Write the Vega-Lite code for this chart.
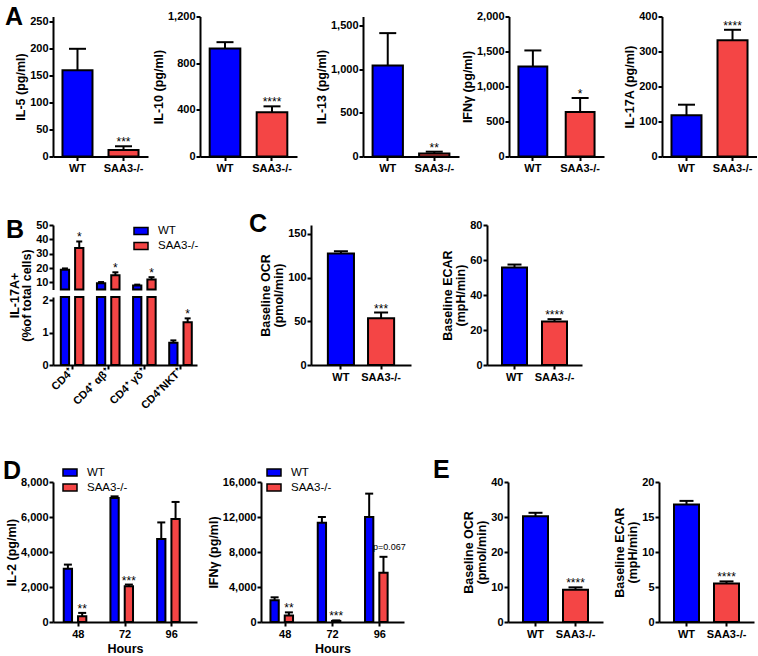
{
  "$schema": "https://vega.github.io/schema/vega-lite/v6.json",
  "padding": {"left": 3, "top": 4.5, "right": 0, "bottom": 0},
  "background": "white",
  "datasets": {
    "simple": [
      {"panel": "IL-5", "group": "WT", "value": 160, "upper": 200, "sig": ""},
      {"panel": "IL-5", "group": "SAA3-/-", "value": 12, "upper": 19, "sig": "***"},
      {"panel": "IL-10", "group": "WT", "value": 925, "upper": 980, "sig": ""},
      {"panel": "IL-10", "group": "SAA3-/-", "value": 380, "upper": 430, "sig": "****"},
      {"panel": "IL-13", "group": "WT", "value": 1040, "upper": 1410, "sig": ""},
      {"panel": "IL-13", "group": "SAA3-/-", "value": 35, "upper": 55, "sig": "**"},
      {"panel": "IFNg", "group": "WT", "value": 1285, "upper": 1515, "sig": ""},
      {"panel": "IFNg", "group": "SAA3-/-", "value": 635, "upper": 835, "sig": "*"},
      {"panel": "IL-17A", "group": "WT", "value": 118, "upper": 148, "sig": ""},
      {"panel": "IL-17A", "group": "SAA3-/-", "value": 332, "upper": 362, "sig": "****"},
      {"panel": "OCR-C", "group": "WT", "value": 127.5, "upper": 130, "sig": ""},
      {"panel": "OCR-C", "group": "SAA3-/-", "value": 53.5, "upper": 60, "sig": "***"},
      {"panel": "ECAR-C", "group": "WT", "value": 55.7, "upper": 57.4, "sig": ""},
      {"panel": "ECAR-C", "group": "SAA3-/-", "value": 24.8, "upper": 26.2, "sig": "****"},
      {"panel": "OCR-E", "group": "WT", "value": 30.2, "upper": 31.2, "sig": ""},
      {"panel": "OCR-E", "group": "SAA3-/-", "value": 9.2, "upper": 9.9, "sig": "****"},
      {"panel": "ECAR-E", "group": "WT", "value": 16.8, "upper": 17.3, "sig": ""},
      {"panel": "ECAR-E", "group": "SAA3-/-", "value": 5.5, "upper": 5.8, "sig": "****"}
    ],
    "B": [
      {"cell": "CD4⁺", "group": "WT", "value": 18.7, "upper": 19.7, "sig": ""},
      {"cell": "CD4⁺", "group": "SAA3-/-", "value": 34, "upper": 38.5, "sig": "*"},
      {"cell": "CD4⁺ αβ⁺", "group": "WT", "value": 9.4, "upper": 10.2, "sig": ""},
      {"cell": "CD4⁺ αβ⁺", "group": "SAA3-/-", "value": 15, "upper": 17, "sig": "*"},
      {"cell": "CD4⁺ γδ⁺", "group": "WT", "value": 7.8, "upper": 8.4, "sig": ""},
      {"cell": "CD4⁺ γδ⁺", "group": "SAA3-/-", "value": 12, "upper": 13.6, "sig": "*"},
      {"cell": "CD4⁺NKT⁺", "group": "WT", "value": 0.69, "upper": 0.76, "sig": ""},
      {"cell": "CD4⁺NKT⁺", "group": "SAA3-/-", "value": 1.32, "upper": 1.44, "sig": "*"}
    ],
    "D": [
      {"panel": "IL-2", "hour": "48", "group": "WT", "value": 3050, "upper": 3280, "sig": "", "note": ""},
      {"panel": "IL-2", "hour": "48", "group": "SAA3-/-", "value": 330, "upper": 520, "sig": "**", "note": ""},
      {"panel": "IL-2", "hour": "72", "group": "WT", "value": 7090, "upper": 7180, "sig": "", "note": ""},
      {"panel": "IL-2", "hour": "72", "group": "SAA3-/-", "value": 2040, "upper": 2140, "sig": "***", "note": ""},
      {"panel": "IL-2", "hour": "96", "group": "WT", "value": 4740, "upper": 5690, "sig": "", "note": ""},
      {"panel": "IL-2", "hour": "96", "group": "SAA3-/-", "value": 5890, "upper": 6860, "sig": "", "note": ""},
      {"panel": "IFNg", "hour": "48", "group": "WT", "value": 2475, "upper": 2820, "sig": "", "note": ""},
      {"panel": "IFNg", "hour": "48", "group": "SAA3-/-", "value": 756, "upper": 1100, "sig": "**", "note": ""},
      {"panel": "IFNg", "hour": "72", "group": "WT", "value": 11345, "upper": 11990, "sig": "", "note": ""},
      {"panel": "IFNg", "hour": "72", "group": "SAA3-/-", "value": 120, "upper": 180, "sig": "***", "note": ""},
      {"panel": "IFNg", "hour": "96", "group": "WT", "value": 11990, "upper": 14670, "sig": "", "note": ""},
      {"panel": "IFNg", "hour": "96", "group": "SAA3-/-", "value": 5615, "upper": 7450, "sig": "", "note": "p=0.067"}
    ]
  },
  "resolve": {"scale": {"color": "independent"}, "legend": {"color": "independent"}},
  "spacing": 38.5,
  "vconcat": [
    {
      "hconcat": [
        {
          "width": 95, "height": 140,
          "data": {"name": "simple"},
          "transform": [{"filter": "datum.panel === 'IL-5'"}],
          "title": {"text": "A", "dx": -48, "dy": 18},
          "encoding": {"x": {"field": "group", "type": "nominal", "sort": ["WT", "SAA3-/-"], "title": null, "scale": {"paddingInner": 0.348, "paddingOuter": 0.206}}},
          "layer": [
            {"mark": {"type": "bar", "stroke": "#000", "strokeWidth": 2}, "encoding": {"y": {"field": "value", "type": "quantitative", "title": "IL-5 (pg/ml)", "scale": {"domain": [0, 250]}, "axis": {"values": [0, 50, 100, 150, 200, 250]}}, "color": {"field": "group", "type": "nominal", "scale": {"domain": ["WT", "SAA3-/-"], "range": ["#0000ff", "#f44545"]}, "legend": null}}},
            {"mark": {"type": "rule", "color": "#000", "strokeWidth": 2}, "encoding": {"y": {"field": "value", "type": "quantitative", "title": "IL-5 (pg/ml)", "axis": {"values": [0, 50, 100, 150, 200, 250]}}, "y2": {"field": "upper"}}},
            {"mark": {"type": "tick", "color": "#000", "thickness": 2, "size": 17, "opacity": 1}, "encoding": {"y": {"field": "upper", "type": "quantitative", "title": "IL-5 (pg/ml)", "axis": {"values": [0, 50, 100, 150, 200, 250]}}}},
            {"mark": {"type": "text", "baseline": "alphabetic", "fontSize": 12, "color": "#000"}, "encoding": {"y": {"field": "upper", "type": "quantitative", "title": "IL-5 (pg/ml)", "axis": {"values": [0, 50, 100, 150, 200, 250]}}, "text": {"field": "sig"}}}
          ]
        },
        {"width": 52, "height": 1, "data": {"values": []}, "mark": {"type": "point", "opacity": 0}},
        {
          "width": 97, "height": 140,
          "data": {"name": "simple"},
          "transform": [{"filter": "datum.panel === 'IL-10'"}],
          "encoding": {"x": {"field": "group", "type": "nominal", "sort": ["WT", "SAA3-/-"], "title": null, "scale": {"paddingInner": 0.348, "paddingOuter": 0.206}}},
          "layer": [
            {"mark": {"type": "bar", "stroke": "#000", "strokeWidth": 2}, "encoding": {"y": {"field": "value", "type": "quantitative", "title": "IL-10 (pg/ml)", "scale": {"domain": [0, 1200]}, "axis": {"values": [0, 400, 800, 1200]}}, "color": {"field": "group", "type": "nominal", "scale": {"domain": ["WT", "SAA3-/-"], "range": ["#0000ff", "#f44545"]}, "legend": null}}},
            {"mark": {"type": "rule", "color": "#000", "strokeWidth": 2}, "encoding": {"y": {"field": "value", "type": "quantitative", "title": "IL-10 (pg/ml)", "axis": {"values": [0, 400, 800, 1200]}}, "y2": {"field": "upper"}}},
            {"mark": {"type": "tick", "color": "#000", "thickness": 2, "size": 17, "opacity": 1}, "encoding": {"y": {"field": "upper", "type": "quantitative", "title": "IL-10 (pg/ml)", "axis": {"values": [0, 400, 800, 1200]}}}},
            {"mark": {"type": "text", "baseline": "alphabetic", "fontSize": 12, "color": "#000"}, "encoding": {"y": {"field": "upper", "type": "quantitative", "title": "IL-10 (pg/ml)", "axis": {"values": [0, 400, 800, 1200]}}, "text": {"field": "sig"}}}
          ]
        },
        {"width": 66, "height": 1, "data": {"values": []}, "mark": {"type": "point", "opacity": 0}},
        {
          "width": 96, "height": 140,
          "data": {"name": "simple"},
          "transform": [{"filter": "datum.panel === 'IL-13'"}],
          "encoding": {"x": {"field": "group", "type": "nominal", "sort": ["WT", "SAA3-/-"], "title": null, "scale": {"paddingInner": 0.348, "paddingOuter": 0.206}}},
          "layer": [
            {"mark": {"type": "bar", "stroke": "#000", "strokeWidth": 2}, "encoding": {"y": {"field": "value", "type": "quantitative", "title": "IL-13 (pg/ml)", "scale": {"domain": [0, 1500]}, "axis": {"values": [0, 500, 1000, 1500]}}, "color": {"field": "group", "type": "nominal", "scale": {"domain": ["WT", "SAA3-/-"], "range": ["#0000ff", "#f44545"]}, "legend": null}}},
            {"mark": {"type": "rule", "color": "#000", "strokeWidth": 2}, "encoding": {"y": {"field": "value", "type": "quantitative", "title": "IL-13 (pg/ml)", "axis": {"values": [0, 500, 1000, 1500]}}, "y2": {"field": "upper"}}},
            {"mark": {"type": "tick", "color": "#000", "thickness": 2, "size": 17, "opacity": 1}, "encoding": {"y": {"field": "upper", "type": "quantitative", "title": "IL-13 (pg/ml)", "axis": {"values": [0, 500, 1000, 1500]}}}},
            {"mark": {"type": "text", "baseline": "alphabetic", "fontSize": 12, "color": "#000"}, "encoding": {"y": {"field": "upper", "type": "quantitative", "title": "IL-13 (pg/ml)", "axis": {"values": [0, 500, 1000, 1500]}}, "text": {"field": "sig"}}}
          ]
        },
        {"width": 50, "height": 1, "data": {"values": []}, "mark": {"type": "point", "opacity": 0}},
        {
          "width": 95, "height": 140,
          "data": {"name": "simple"},
          "transform": [{"filter": "datum.panel === 'IFNg'"}],
          "encoding": {"x": {"field": "group", "type": "nominal", "sort": ["WT", "SAA3-/-"], "title": null, "scale": {"paddingInner": 0.39, "paddingOuter": 0.2}}},
          "layer": [
            {"mark": {"type": "bar", "stroke": "#000", "strokeWidth": 2}, "encoding": {"y": {"field": "value", "type": "quantitative", "title": "IFNγ (pg/ml)", "scale": {"domain": [0, 2000]}, "axis": {"values": [0, 500, 1000, 1500, 2000]}}, "color": {"field": "group", "type": "nominal", "scale": {"domain": ["WT", "SAA3-/-"], "range": ["#0000ff", "#f44545"]}, "legend": null}}},
            {"mark": {"type": "rule", "color": "#000", "strokeWidth": 2}, "encoding": {"y": {"field": "value", "type": "quantitative", "title": "IFNγ (pg/ml)", "axis": {"values": [0, 500, 1000, 1500, 2000]}}, "y2": {"field": "upper"}}},
            {"mark": {"type": "tick", "color": "#000", "thickness": 2, "size": 17, "opacity": 1}, "encoding": {"y": {"field": "upper", "type": "quantitative", "title": "IFNγ (pg/ml)", "axis": {"values": [0, 500, 1000, 1500, 2000]}}}},
            {"mark": {"type": "text", "baseline": "alphabetic", "fontSize": 12, "color": "#000"}, "encoding": {"y": {"field": "upper", "type": "quantitative", "title": "IFNγ (pg/ml)", "axis": {"values": [0, 500, 1000, 1500, 2000]}}, "text": {"field": "sig"}}}
          ]
        },
        {"width": 58, "height": 1, "data": {"values": []}, "mark": {"type": "point", "opacity": 0}},
        {
          "width": 95, "height": 140,
          "data": {"name": "simple"},
          "transform": [{"filter": "datum.panel === 'IL-17A'"}],
          "encoding": {"x": {"field": "group", "type": "nominal", "sort": ["WT", "SAA3-/-"], "title": null, "scale": {"paddingInner": 0.348, "paddingOuter": 0.206}}},
          "layer": [
            {"mark": {"type": "bar", "stroke": "#000", "strokeWidth": 2}, "encoding": {"y": {"field": "value", "type": "quantitative", "title": "IL-17A (pg/ml)", "scale": {"domain": [0, 400]}, "axis": {"values": [0, 100, 200, 300, 400]}}, "color": {"field": "group", "type": "nominal", "scale": {"domain": ["WT", "SAA3-/-"], "range": ["#0000ff", "#f44545"]}, "legend": null}}},
            {"mark": {"type": "rule", "color": "#000", "strokeWidth": 2}, "encoding": {"y": {"field": "value", "type": "quantitative", "title": "IL-17A (pg/ml)", "axis": {"values": [0, 100, 200, 300, 400]}}, "y2": {"field": "upper"}}},
            {"mark": {"type": "tick", "color": "#000", "thickness": 2, "size": 17, "opacity": 1}, "encoding": {"y": {"field": "upper", "type": "quantitative", "title": "IL-17A (pg/ml)", "axis": {"values": [0, 100, 200, 300, 400]}}}},
            {"mark": {"type": "text", "baseline": "alphabetic", "fontSize": 12, "color": "#000"}, "encoding": {"y": {"field": "upper", "type": "quantitative", "title": "IL-17A (pg/ml)", "axis": {"values": [0, 100, 200, 300, 400]}}, "text": {"field": "sig"}}}
          ]
        }
      ],
      "spacing": 0,
      "bounds": "flush",
      "resolve": {"scale": {"color": "independent"}, "legend": {"color": "independent"}}
    },
    {
      "spacing": 46,
      "resolve": {"scale": {"color": "independent"}, "legend": {"color": "independent"}},
      "vconcat": [
        {
          "hconcat": [
            {
              "width": 144, "height": 140,
              "data": {"name": "B"},
              "encoding": {
                "x": {"field": "cell", "type": "nominal", "sort": ["CD4⁺", "CD4⁺ αβ⁺", "CD4⁺ γδ⁺", "CD4⁺NKT⁺"], "title": null, "scale": {"paddingInner": 0.375, "paddingOuter": 0.18, "align": 0.6}, "axis": {"labelAngle": -45, "labelAlign": "right", "labelBaseline": "middle", "labelPadding": 1}},
                "xOffset": {"field": "group", "type": "nominal", "sort": ["WT", "SAA3-/-"], "scale": {"paddingInner": 0.42}}
              },
              "layer": [
                {
                  "transform": [{"filter": "datum.cell !== 'CD4⁺NKT⁺'"}],
                  "layer": [
                    {"mark": {"type": "bar", "stroke": "#000", "strokeWidth": 2}, "encoding": {"y": {"field": "value", "type": "quantitative", "title": ["IL-17A+", "(%of total cells)"], "scale": {"domain": [5, 50], "range": [64.5, 0], "clamp": true, "nice": false, "zero": false}, "axis": {"values": [10, 20, 30, 40, 50], "orient": "left", "titleY": 70, "titleLineHeight": 12}}, "y2": {"datum": 5}, "color": {"field": "group", "type": "nominal", "scale": {"domain": ["WT", "SAA3-/-"], "range": ["#0000ff", "#f44545"]}, "legend": {"orient": "none", "legendX": 80, "legendY": -2, "title": null}}}},
                    {"mark": {"type": "rule", "color": "#000", "strokeWidth": 2}, "encoding": {"y": {"field": "value", "type": "quantitative", "title": ["IL-17A+", "(%of total cells)"], "axis": {"values": [10, 20, 30, 40, 50], "orient": "left", "titleY": 70, "titleLineHeight": 12}}, "y2": {"field": "upper"}}},
                    {"mark": {"type": "tick", "color": "#000", "thickness": 2, "size": 6, "opacity": 1}, "encoding": {"y": {"field": "upper", "type": "quantitative", "title": ["IL-17A+", "(%of total cells)"], "axis": {"values": [10, 20, 30, 40, 50], "orient": "left", "titleY": 70, "titleLineHeight": 12}}}},
                    {"mark": {"type": "text", "baseline": "alphabetic", "fontSize": 12, "color": "#000"}, "encoding": {"y": {"field": "upper", "type": "quantitative", "title": ["IL-17A+", "(%of total cells)"], "axis": {"values": [10, 20, 30, 40, 50], "orient": "left", "titleY": 70, "titleLineHeight": 12}}, "text": {"field": "sig"}}}
                  ]
                },
                {
                  "layer": [
                    {"mark": {"type": "bar", "stroke": "#000", "strokeWidth": 2}, "encoding": {"y": {"field": "value", "type": "quantitative", "title": null, "scale": {"domain": [0, 2.1], "range": [140, 72], "clamp": true, "nice": false}, "axis": {"values": [0, 1, 2], "orient": "left"}}, "color": {"field": "group", "type": "nominal", "scale": {"domain": ["WT", "SAA3-/-"], "range": ["#0000ff", "#f44545"]}, "legend": {"orient": "none", "legendX": 80, "legendY": -2, "title": null}}}},
                    {"transform": [{"filter": "datum.cell === 'CD4⁺NKT⁺'"}], "mark": {"type": "rule", "color": "#000", "strokeWidth": 2}, "encoding": {"y": {"field": "value", "type": "quantitative", "title": null, "axis": {"values": [0, 1, 2], "orient": "left"}}, "y2": {"field": "upper"}}},
                    {"transform": [{"filter": "datum.cell === 'CD4⁺NKT⁺'"}], "mark": {"type": "tick", "color": "#000", "thickness": 2, "size": 6, "opacity": 1}, "encoding": {"y": {"field": "upper", "type": "quantitative", "title": null, "axis": {"values": [0, 1, 2], "orient": "left"}}}},
                    {"transform": [{"filter": "datum.cell === 'CD4⁺NKT⁺'"}], "mark": {"type": "text", "baseline": "alphabetic", "fontSize": 12, "color": "#000"}, "encoding": {"y": {"field": "upper", "type": "quantitative", "title": null, "axis": {"values": [0, 1, 2], "orient": "left"}}, "text": {"field": "sig"}}}
                  ]
                }
              ],
              "resolve": {"scale": {"y": "independent"}, "axis": {"y": "independent"}}
            },
            {"width": 114, "height": 1, "data": {"values": []}, "mark": {"type": "point", "opacity": 0}},
            {
              "width": 100, "height": 140,
              "data": {"name": "simple"},
              "transform": [{"filter": "datum.panel === 'OCR-C'"}],
              "title": {"text": "B", "dx": -305, "dy": 22},
              "encoding": {"x": {"field": "group", "type": "nominal", "sort": ["WT", "SAA3-/-"], "title": null, "scale": {"paddingInner": 0.35, "paddingOuter": 0.42}}},
              "layer": [
                {"mark": {"type": "bar", "stroke": "#000", "strokeWidth": 2}, "encoding": {"y": {"field": "value", "type": "quantitative", "title": ["Baseline OCR", "(pmol/min)"], "scale": {"domain": [0, 150]}, "axis": {"values": [0, 50, 100, 150]}}, "color": {"field": "group", "type": "nominal", "scale": {"domain": ["WT", "SAA3-/-"], "range": ["#0000ff", "#f44545"]}, "legend": null}}},
                {"mark": {"type": "rule", "color": "#000", "strokeWidth": 2}, "encoding": {"y": {"field": "value", "type": "quantitative", "title": ["Baseline OCR", "(pmol/min)"], "axis": {"values": [0, 50, 100, 150]}}, "y2": {"field": "upper"}}},
                {"mark": {"type": "tick", "color": "#000", "thickness": 2, "size": 14, "opacity": 1}, "encoding": {"y": {"field": "upper", "type": "quantitative", "title": ["Baseline OCR", "(pmol/min)"], "axis": {"values": [0, 50, 100, 150]}}}},
                {"mark": {"type": "text", "baseline": "alphabetic", "fontSize": 12, "color": "#000"}, "encoding": {"y": {"field": "upper", "type": "quantitative", "title": ["Baseline OCR", "(pmol/min)"], "axis": {"values": [0, 50, 100, 150]}}, "text": {"field": "sig"}}}
              ]
            },
            {"width": 76, "height": 1, "data": {"values": []}, "mark": {"type": "point", "opacity": 0}},
            {
              "width": 95, "height": 140,
              "data": {"name": "simple"},
              "transform": [{"filter": "datum.panel === 'ECAR-C'"}],
              "title": {"text": "C", "dx": -238, "dy": 22},
              "encoding": {"x": {"field": "group", "type": "nominal", "sort": ["WT", "SAA3-/-"], "title": null, "scale": {"paddingInner": 0.375, "paddingOuter": 0.375}}},
              "layer": [
                {"mark": {"type": "bar", "stroke": "#000", "strokeWidth": 2}, "encoding": {"y": {"field": "value", "type": "quantitative", "title": ["Baseline ECAR", "(mpH/min)"], "scale": {"domain": [0, 80]}, "axis": {"values": [0, 20, 40, 60, 80]}}, "color": {"field": "group", "type": "nominal", "scale": {"domain": ["WT", "SAA3-/-"], "range": ["#0000ff", "#f44545"]}, "legend": null}}},
                {"mark": {"type": "rule", "color": "#000", "strokeWidth": 2}, "encoding": {"y": {"field": "value", "type": "quantitative", "title": ["Baseline ECAR", "(mpH/min)"], "axis": {"values": [0, 20, 40, 60, 80]}}, "y2": {"field": "upper"}}},
                {"mark": {"type": "tick", "color": "#000", "thickness": 2, "size": 14, "opacity": 1}, "encoding": {"y": {"field": "upper", "type": "quantitative", "title": ["Baseline ECAR", "(mpH/min)"], "axis": {"values": [0, 20, 40, 60, 80]}}}},
                {"mark": {"type": "text", "baseline": "alphabetic", "fontSize": 12, "color": "#000"}, "encoding": {"y": {"field": "upper", "type": "quantitative", "title": ["Baseline ECAR", "(mpH/min)"], "axis": {"values": [0, 20, 40, 60, 80]}}, "text": {"field": "sig"}}}
              ]
            }
          ],
          "spacing": 0,
          "bounds": "flush",
          "resolve": {"scale": {"color": "independent"}, "legend": {"color": "independent"}}
        },
        {
          "hconcat": [
            {
              "width": 144, "height": 140,
              "data": {"name": "D"},
              "transform": [{"filter": "datum.panel === 'IL-2'"}],
              "title": {"text": "D", "dx": -50, "dy": 23.5},
              "encoding": {
                "x": {"field": "hour", "type": "nominal", "sort": ["48", "72", "96"], "title": "Hours", "scale": {"paddingInner": 0.376, "paddingOuter": 0.23}},
                "xOffset": {"field": "group", "type": "nominal", "sort": ["WT", "SAA3-/-"], "scale": {"paddingInner": 0.343}}
              },
              "layer": [
                {"mark": {"type": "bar", "stroke": "#000", "strokeWidth": 2}, "encoding": {"y": {"field": "value", "type": "quantitative", "title": "IL-2 (pg/ml)", "scale": {"domain": [0, 8000]}, "axis": {"values": [0, 2000, 4000, 6000, 8000]}}, "color": {"field": "group", "type": "nominal", "scale": {"domain": ["WT", "SAA3-/-"], "range": ["#0000ff", "#f44545"]}, "legend": {"orient": "none", "legendX": 9, "legendY": -17.5, "title": null}}}},
                {"mark": {"type": "rule", "color": "#000", "strokeWidth": 2}, "encoding": {"y": {"field": "value", "type": "quantitative", "title": "IL-2 (pg/ml)", "axis": {"values": [0, 2000, 4000, 6000, 8000]}}, "y2": {"field": "upper"}}},
                {"mark": {"type": "tick", "color": "#000", "thickness": 2, "size": 8, "opacity": 1}, "encoding": {"y": {"field": "upper", "type": "quantitative", "title": "IL-2 (pg/ml)", "axis": {"values": [0, 2000, 4000, 6000, 8000]}}}},
                {"mark": {"type": "text", "baseline": "alphabetic", "fontSize": 12, "color": "#000"}, "encoding": {"y": {"field": "upper", "type": "quantitative", "title": "IL-2 (pg/ml)", "axis": {"values": [0, 2000, 4000, 6000, 8000]}}, "text": {"field": "sig"}}}
              ]
            },
            {"width": 64, "height": 1, "data": {"values": []}, "mark": {"type": "point", "opacity": 0}},
            {
              "width": 143, "height": 140,
              "data": {"name": "D"},
              "transform": [{"filter": "datum.panel === 'IFNg'"}],
              "encoding": {
                "x": {"field": "hour", "type": "nominal", "sort": ["48", "72", "96"], "title": "Hours", "scale": {"paddingInner": 0.376, "paddingOuter": 0.2}},
                "xOffset": {"field": "group", "type": "nominal", "sort": ["WT", "SAA3-/-"], "scale": {"paddingInner": 0.343}}
              },
              "layer": [
                {"mark": {"type": "bar", "stroke": "#000", "strokeWidth": 2}, "encoding": {"y": {"field": "value", "type": "quantitative", "title": "IFNγ (pg/ml)", "scale": {"domain": [0, 16000]}, "axis": {"values": [0, 4000, 8000, 12000, 16000]}}, "color": {"field": "group", "type": "nominal", "scale": {"domain": ["WT", "SAA3-/-"], "range": ["#0000ff", "#f44545"]}, "legend": {"orient": "none", "legendX": 5, "legendY": -17.5, "title": null}}}},
                {"mark": {"type": "rule", "color": "#000", "strokeWidth": 2}, "encoding": {"y": {"field": "value", "type": "quantitative", "title": "IFNγ (pg/ml)", "axis": {"values": [0, 4000, 8000, 12000, 16000]}}, "y2": {"field": "upper"}}},
                {"mark": {"type": "tick", "color": "#000", "thickness": 2, "size": 8, "opacity": 1}, "encoding": {"y": {"field": "upper", "type": "quantitative", "title": "IFNγ (pg/ml)", "axis": {"values": [0, 4000, 8000, 12000, 16000]}}}},
                {"mark": {"type": "text", "baseline": "alphabetic", "fontSize": 12, "color": "#000"}, "encoding": {"y": {"field": "upper", "type": "quantitative", "title": "IFNγ (pg/ml)", "axis": {"values": [0, 4000, 8000, 12000, 16000]}}, "text": {"field": "sig"}}},
                {"mark": {"type": "text", "baseline": "alphabetic", "fontSize": 9, "color": "#000", "dy": -7, "dx": 6}, "encoding": {"y": {"field": "upper", "type": "quantitative", "title": "IFNγ (pg/ml)", "axis": {"values": [0, 4000, 8000, 12000, 16000]}}, "text": {"field": "note"}}}
              ]
            },
            {"width": 104, "height": 1, "data": {"values": []}, "mark": {"type": "point", "opacity": 0}},
            {
              "width": 95, "height": 140,
              "data": {"name": "simple"},
              "transform": [{"filter": "datum.panel === 'OCR-E'"}],
              "title": {"text": "E", "dx": -75, "dy": 10.5},
              "encoding": {"x": {"field": "group", "type": "nominal", "sort": ["WT", "SAA3-/-"], "title": null, "scale": {"paddingInner": 0.375, "paddingOuter": 0.375}}},
              "layer": [
                {"mark": {"type": "bar", "stroke": "#000", "strokeWidth": 2}, "encoding": {"y": {"field": "value", "type": "quantitative", "title": ["Baseline OCR", "(pmol/min)"], "scale": {"domain": [0, 40]}, "axis": {"values": [0, 10, 20, 30, 40]}}, "color": {"field": "group", "type": "nominal", "scale": {"domain": ["WT", "SAA3-/-"], "range": ["#0000ff", "#f44545"]}, "legend": null}}},
                {"mark": {"type": "rule", "color": "#000", "strokeWidth": 2}, "encoding": {"y": {"field": "value", "type": "quantitative", "title": ["Baseline OCR", "(pmol/min)"], "axis": {"values": [0, 10, 20, 30, 40]}}, "y2": {"field": "upper"}}},
                {"mark": {"type": "tick", "color": "#000", "thickness": 2, "size": 14, "opacity": 1}, "encoding": {"y": {"field": "upper", "type": "quantitative", "title": ["Baseline OCR", "(pmol/min)"], "axis": {"values": [0, 10, 20, 30, 40]}}}},
                {"mark": {"type": "text", "baseline": "alphabetic", "fontSize": 12, "color": "#000"}, "encoding": {"y": {"field": "upper", "type": "quantitative", "title": ["Baseline OCR", "(pmol/min)"], "axis": {"values": [0, 10, 20, 30, 40]}}, "text": {"field": "sig"}}}
              ]
            },
            {"width": 56, "height": 1, "data": {"values": []}, "mark": {"type": "point", "opacity": 0}},
            {
              "width": 95, "height": 140,
              "data": {"name": "simple"},
              "transform": [{"filter": "datum.panel === 'ECAR-E'"}],
              "encoding": {"x": {"field": "group", "type": "nominal", "sort": ["WT", "SAA3-/-"], "title": null, "scale": {"paddingInner": 0.375, "paddingOuter": 0.375}}},
              "layer": [
                {"mark": {"type": "bar", "stroke": "#000", "strokeWidth": 2}, "encoding": {"y": {"field": "value", "type": "quantitative", "title": ["Baseline ECAR", "(mpH/min)"], "scale": {"domain": [0, 20]}, "axis": {"values": [0, 5, 10, 15, 20]}}, "color": {"field": "group", "type": "nominal", "scale": {"domain": ["WT", "SAA3-/-"], "range": ["#0000ff", "#f44545"]}, "legend": null}}},
                {"mark": {"type": "rule", "color": "#000", "strokeWidth": 2}, "encoding": {"y": {"field": "value", "type": "quantitative", "title": ["Baseline ECAR", "(mpH/min)"], "axis": {"values": [0, 5, 10, 15, 20]}}, "y2": {"field": "upper"}}},
                {"mark": {"type": "tick", "color": "#000", "thickness": 2, "size": 14, "opacity": 1}, "encoding": {"y": {"field": "upper", "type": "quantitative", "title": ["Baseline ECAR", "(mpH/min)"], "axis": {"values": [0, 5, 10, 15, 20]}}}},
                {"mark": {"type": "text", "baseline": "alphabetic", "fontSize": 12, "color": "#000"}, "encoding": {"y": {"field": "upper", "type": "quantitative", "title": ["Baseline ECAR", "(mpH/min)"], "axis": {"values": [0, 5, 10, 15, 20]}}, "text": {"field": "sig"}}}
              ]
            }
          ],
          "spacing": 0,
          "bounds": "flush",
          "resolve": {"scale": {"color": "independent"}, "legend": {"color": "independent"}}
        }
      ]
    }
  ],
  "config": {
    "font": "Liberation Sans",
    "view": {"stroke": null},
    "axis": {"domainColor": "#000", "domainWidth": 2, "tickColor": "#000", "tickWidth": 2, "tickSize": 4, "labelColor": "#000", "labelFont": "Liberation Sans", "labelFontSize": 11, "labelFontWeight": "bold", "labelPadding": 2, "titleColor": "#000", "titleFont": "Liberation Sans", "titleFontSize": 12.5, "titleFontWeight": "bold", "titlePadding": 2, "titleLineHeight": 13, "grid": false, "labelOverlap": false, "labelBound": false},
    "axisX": {"labelAngle": 0, "titlePadding": 3},
    "axisY": {"format": ",.0f", "labelPadding": 1},
    "legend": {"labelFont": "Liberation Sans", "labelFontSize": 11.5, "labelColor": "#000", "symbolType": "M-1,-0.5H1V0.5H-1Z", "symbolSize": 196, "symbolStrokeColor": "#000", "symbolStrokeWidth": 1.5, "symbolOpacity": 1, "padding": 0, "rowPadding": 0, "labelOffset": 9},
    "title": {"anchor": "start", "frame": "group", "fontSize": 25, "fontWeight": "bold", "color": "#000", "offset": 0, "font": "Liberation Sans"}
  }
}
